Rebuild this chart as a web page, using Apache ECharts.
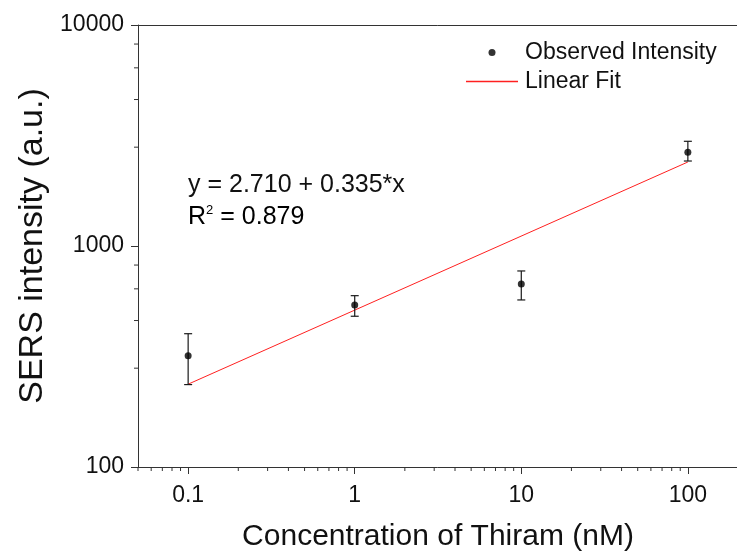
<!DOCTYPE html>
<html>
<head>
<meta charset="utf-8">
<script src="https://cdn.jsdelivr.net/npm/echarts@6/dist/echarts.min.js"></script>
<style>
html,body{margin:0;padding:0;background:#fff;}
#chart{width:737px;height:554px;}
</style>
</head>
<body>
<div id="chart"></div>
<script>
// Data
var concentrations = [0.1, 1, 10, 100];
var intensities = [319, 541, 673, 2655];
var errLow = [236, 481, 570, 2424];
var errHigh = [401, 596, 771, 2977];
var fitX = [0.1, 100];
var fitY = [237, 2399];
var xMinorTicks = [0.05, 0.06, 0.07, 0.08, 0.09, 0.2, 0.3, 0.4, 0.5, 0.6, 0.7, 0.8, 0.9,
  2, 3, 4, 5, 6, 7, 8, 9, 20, 30, 40, 50, 60, 70, 80, 90];
var yMinorTicks = [280, 460, 640, 820, 2800, 4600, 6400, 8200];

var FONT = '"Liberation Sans", Arial, sans-serif';
var AX = '#333333';
var TXT = '#111111';
var RED = '#ff2020';

var chart = echarts.init(document.getElementById('chart'), null, {renderer: 'canvas'});

var scatterData = concentrations.map(function (x, i) { return [x, intensities[i]]; });
var errData = concentrations.map(function (x, i) { return [x, errLow[i], errHigh[i]]; });
var fitData = fitX.map(function (x, i) { return [x, fitY[i]]; });
var xMinorData = xMinorTicks.map(function (v) { return [v, 100]; });
var yMinorData = yMinorTicks.map(function (v) { return [0.05, v]; });

var option = {
  backgroundColor: '#ffffff',
  animation: false,
  grid: {left: 138, top: 25, right: -1, bottom: 87, show: false, containLabel: false, outerBoundsMode: 'none'},
  legend: {
    data: [
      {name: 'Observed Intensity', icon: 'circle', itemStyle: {color: '#000'}},
      {name: 'Linear Fit', icon: 'path://M0 0H52V1.4H0Z', itemStyle: {color: RED}}
    ],
    orient: 'vertical',
    left: 466, top: 41, padding: 0,
    itemWidth: 52, itemHeight: 7, itemGap: 6,
    textStyle: {fontFamily: FONT, fontSize: 23, color: TXT, lineHeight: 23, padding: [0, 0, 0, 2]},
    selectedMode: false
  },
  xAxis: [{
    type: 'log', logBase: 10, min: 0.05, max: 200,
    name: 'Concentration of Thiram (nM)', nameLocation: 'middle', nameGap: 55,
    nameTextStyle: {fontFamily: FONT, fontSize: 30, color: TXT},
    axisLine: {show: true, onZero: false, lineStyle: {color: AX, width: 1}},
    axisTick: {show: true, inside: false, length: 7, lineStyle: {color: AX, width: 1}},
    axisLabel: {fontFamily: FONT, fontSize: 23, color: TXT, margin: 17, showMinLabel: false, showMaxLabel: false},
    splitLine: {show: false}, minorTick: {show: false}
  }, {
    type: 'log', logBase: 10, min: 0.05, max: 200, position: 'top',
    axisLine: {show: true, onZero: false, lineStyle: {color: AX, width: 1}},
    axisTick: {show: false}, axisLabel: {show: false}, splitLine: {show: false}
  }],
  yAxis: {
    type: 'log', logBase: 10, min: 100, max: 10000,
    name: 'SERS intensity (a.u.)', nameLocation: 'middle', nameGap: 85,
    nameTextStyle: {fontFamily: FONT, fontSize: 34, color: TXT},
    axisLine: {show: true, onZero: false, lineStyle: {color: AX, width: 1}},
    axisTick: {show: true, inside: false, length: 7, lineStyle: {color: AX, width: 1}},
    axisLabel: {fontFamily: FONT, fontSize: 23, color: TXT, margin: 14,
      formatter: function (v) { return String(Math.round(v)); }},
    splitLine: {show: false}, minorTick: {show: false}
  },
  graphic: [
    {type: 'text', left: 188, top: 173, style: {text: 'y = 2.710 + 0.335*x', font: '25px ' + FONT, fill: TXT}},
    {type: 'text', left: 188, top: 204, style: {
      text: '{a|R}{s|2}{a| = 0.879}',
      rich: {
        a: {fontFamily: FONT, fontSize: 25, color: TXT},
        s: {fontFamily: FONT, fontSize: 13, color: TXT, verticalAlign: 'top', padding: [0, 0, 13, 0]}
      }
    }}
  ],
  series: [
    {
      name: 'xMinor', type: 'custom', data: xMinorData, clip: false, silent: true, z: 1,
      encode: {x: 0, y: 1},
      renderItem: function (params, api) {
        var p = api.coord([api.value(0), api.value(1)]);
        return {type: 'line', shape: {x1: p[0], y1: p[1], x2: p[0], y2: p[1] + 4}, style: {stroke: AX, lineWidth: 1}};
      }
    },
    {
      name: 'yMinor', type: 'custom', data: yMinorData, clip: false, silent: true, z: 1,
      encode: {x: 0, y: 1},
      renderItem: function (params, api) {
        var p = api.coord([api.value(0), api.value(1)]);
        return {type: 'line', shape: {x1: p[0] - 4, y1: p[1], x2: p[0], y2: p[1]}, style: {stroke: AX, lineWidth: 1}};
      }
    },
    {
      name: 'Linear Fit', type: 'line', data: fitData, symbol: 'none', showSymbol: false,
      lineStyle: {color: RED, width: 1}, itemStyle: {color: RED}, z: 2
    },
    {
      name: 'errbars', type: 'custom', data: errData, silent: true, z: 3,
      encode: {x: 0, y: [1, 2]},
      renderItem: function (params, api) {
        var x = api.value(0);
        var lo = api.coord([x, api.value(1)]);
        var hi = api.coord([x, api.value(2)]);
        var w = 4;
        var st = {stroke: '#1a1a1a', lineWidth: 1.2};
        return {type: 'group', children: [
          {type: 'line', shape: {x1: lo[0], y1: lo[1], x2: hi[0], y2: hi[1]}, style: st},
          {type: 'line', shape: {x1: lo[0] - w, y1: lo[1], x2: lo[0] + w, y2: lo[1]}, style: st},
          {type: 'line', shape: {x1: hi[0] - w, y1: hi[1], x2: hi[0] + w, y2: hi[1]}, style: st}
        ]};
      }
    },
    {
      name: 'Observed Intensity', type: 'scatter', data: scatterData, symbol: 'circle', symbolSize: 7,
      itemStyle: {color: '#000'}, z: 4
    }
  ]
};
chart.setOption(option);
</script>
</body>
</html>
